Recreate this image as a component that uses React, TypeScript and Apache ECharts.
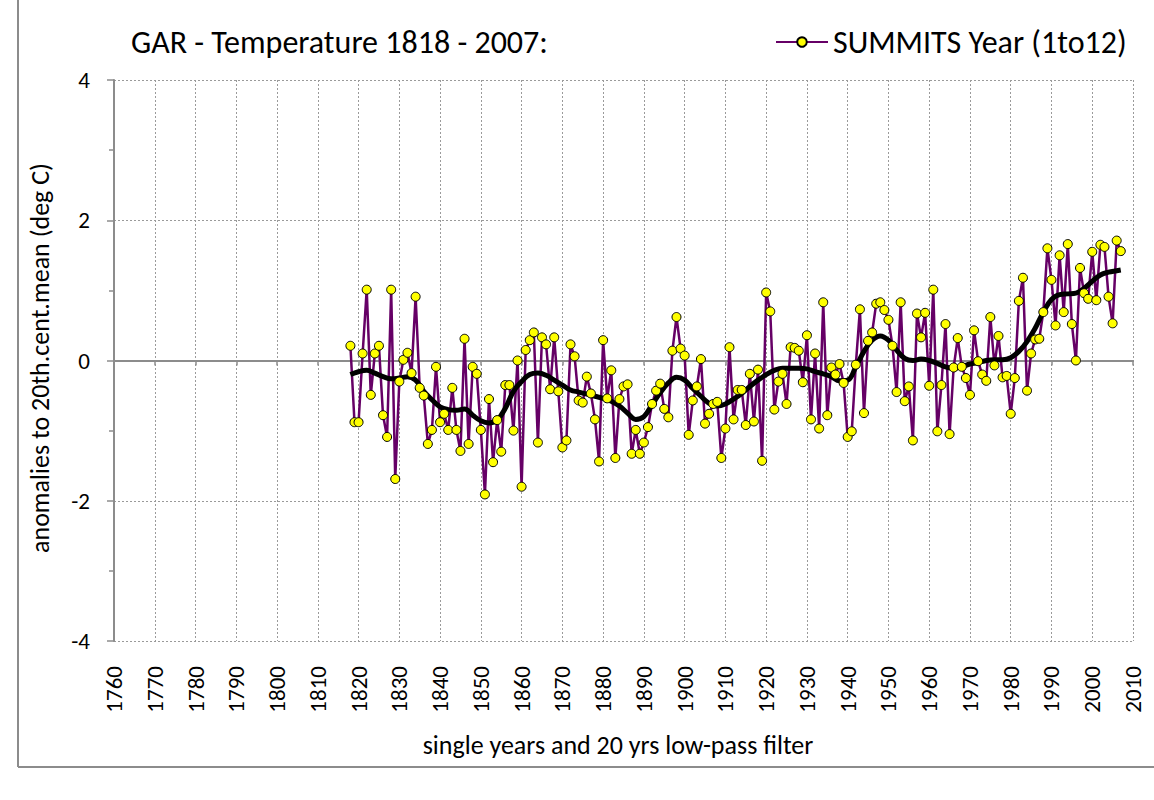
import React, { useEffect, useRef } from "react";
import * as echarts from "echarts";

const FIRST_YEAR = 1818;
const TITLE = "GAR - Temperature 1818 - 2007:";
const SERIES_NAME = "SUMMITS Year (1to12)";
const X_NAME = "single years and 20 yrs low-pass filter";
const Y_NAME = "anomalies to 20th.cent.mean (deg C)";

// yearly anomalies 1818..2007
const anomalies = [
  0.21, -0.88,
  -0.88, 0.10, 1.01, -0.49, 0.10, 0.21, -0.78, -1.09, 1.01, -1.69,
  -0.30, 0.01, 0.11, -0.18, 0.91, -0.39, -0.50, -1.19, -0.99, -0.09,
  -0.88, -0.76, -0.99, -0.39, -0.99, -1.29, 0.31, -1.19, -0.09, -0.19,
  -0.99, -1.91, -0.55, -1.45, -0.85, -1.30, -0.35, -0.35, -1.00, 0.00,
  -1.80, 0.15, 0.29, 0.40, -1.17, 0.33, 0.23, -0.41, 0.33, -0.44,
  -1.24, -1.14, 0.23, 0.06, -0.57, -0.60, -0.23, -0.47, -0.84, -1.44,
  0.29, -0.54, -0.14, -1.39, -0.55, -0.37, -0.34, -1.33, -0.99, -1.33,
  -1.17, -0.95, -0.62, -0.43, -0.33, -0.69, -0.81, 0.14, 0.62, 0.17,
  0.07, -1.06, -0.57, -0.37, 0.02, -0.90, -0.76, -0.62, -0.59, -1.39,
  -0.97, 0.19, -0.84, -0.42, -0.42, -0.92, -0.19, -0.87, -0.13, -1.43,
  0.97, 0.70, -0.70, -0.30, -0.19, -0.62, 0.19, 0.18, 0.14, -0.31,
  0.36, -0.84, 0.10, -0.97, 0.83, -0.78, -0.10, -0.20, -0.05, -0.32,
  -1.09, -1.01, -0.06, 0.73, -0.75, 0.28, 0.40, 0.81, 0.83, 0.72,
  0.58, 0.21, -0.45, 0.83, -0.58, -0.37, -1.14, 0.67, 0.33, 0.68,
  -0.36, 1.01, -1.01, -0.35, 0.52, -1.05, -0.10, 0.32, -0.09, -0.25,
  -0.49, 0.43, -0.01, -0.20, -0.29, 0.62, -0.07, 0.35, -0.24, -0.22,
  -0.76, -0.25, 0.85, 1.18, -0.43, 0.10, 0.30, 0.31, 0.69, 1.60,
  1.15, 0.50, 1.50, 0.69, 1.66, 0.52, 0.00, 1.32, 0.96, 0.88,
  1.55, 0.86, 1.65, 1.62, 0.91, 0.53, 1.71, 1.56,
];

// 20-year low-pass filter
const filterYears = [
  1818, 1820, 1822, 1824, 1826, 1828, 1830, 1832, 1834, 1836, 1838, 1840,
  1842, 1844, 1846, 1848, 1850, 1852, 1854, 1856, 1858, 1860, 1862, 1864,
  1866, 1868, 1870, 1872, 1874, 1876, 1878, 1880, 1882, 1884, 1886, 1888,
  1890, 1892, 1894, 1896, 1898, 1900, 1902, 1904, 1906, 1908, 1910, 1912,
  1914, 1916, 1918, 1920, 1922, 1924, 1926, 1928, 1930, 1932, 1934, 1936,
  1938, 1940, 1942, 1944, 1946, 1948, 1950, 1952, 1954, 1956, 1958, 1960,
  1962, 1964, 1966, 1968, 1970, 1972, 1974, 1976, 1978, 1980, 1982, 1984,
  1986, 1988, 1990, 1992, 1994, 1996, 1998, 2000, 2002, 2004, 2006, 2007,
];
const filterValues = [
  -0.20, -0.16, -0.14, -0.18, -0.23, -0.26, -0.25, -0.23, -0.28, -0.44, -0.56, -0.66,
  -0.70, -0.71, -0.69, -0.78, -0.86, -0.89, -0.85, -0.68, -0.44, -0.30, -0.20, -0.18,
  -0.21, -0.28, -0.35, -0.42, -0.45, -0.48, -0.51, -0.54, -0.58, -0.65, -0.75, -0.84,
  -0.80, -0.63, -0.46, -0.32, -0.24, -0.28, -0.40, -0.51, -0.61, -0.65, -0.62, -0.55,
  -0.47, -0.37, -0.28, -0.20, -0.14, -0.11, -0.11, -0.11, -0.12, -0.16, -0.19, -0.23,
  -0.29, -0.28, -0.09, 0.13, 0.29, 0.35, 0.29, 0.15, 0.03, 0.00, 0.02, 0.00,
  -0.04, -0.09, -0.11, -0.09, -0.05, -0.03, 0.00, 0.01, 0.01, 0.04, 0.13, 0.27,
  0.46, 0.69, 0.87, 0.94, 0.95, 0.96, 1.03, 1.13, 1.22, 1.26, 1.28, 1.29,
];

const X_MIN = 1760;
const X_MAX = 2010;
const X_STEP = 10;
const Y_MIN = -4;
const Y_MAX = 4;
const Y_STEP = 2;

const FONT = "Carlito, Lato, 'Open Sans', sans-serif";

export default function App() {
  const ref = useRef<HTMLDivElement>(null);

  useEffect(() => {
    if (!ref.current) return;
    const chart = echarts.init(ref.current, undefined, { renderer: "svg" });

    const yearly = anomalies.map((v, i) => [FIRST_YEAR + i, v]);
    const filtered = filterYears.map((y, i) => [y, filterValues[i]]);

    const gridLine = { show: true, lineStyle: { color: "#9a9a9a", type: [2, 2] as any, width: 1 } };

    chart.setOption({
      animation: false,
      backgroundColor: "#ffffff",
      textStyle: { fontFamily: FONT },
      title: {
        text: TITLE,
        left: 131,
        top: 26,
        padding: 0,
        textStyle: { fontSize: 32, fontWeight: "normal", color: "#000", fontFamily: FONT },
      },
      legend: {
        data: [SERIES_NAME],
        left: 775,
        top: 26,
        padding: 0,
        itemWidth: 52,
        itemHeight: 12,
        textStyle: { fontSize: 32, color: "#000", fontFamily: FONT },
      },
      grid: { left: 114, top: 80, right: 21, bottom: 159 },
      xAxis: [
        {
          type: "value",
          min: X_MIN,
          max: X_MAX,
          interval: X_STEP,
          position: "bottom",
          axisLine: { show: false, onZero: false },
          axisTick: { show: false },
          axisLabel: {
            rotate: 90,
            fontSize: 23,
            color: "#000",
            margin: 25,
            fontFamily: FONT,
            formatter: (v: number) => String(v),
          },
          splitLine: gridLine,
        },
        {
          type: "value",
          min: X_MIN,
          max: X_MAX,
          interval: X_STEP,
          position: "bottom",
          axisLine: { show: true, onZero: true, lineStyle: { color: "#8c8c8c", width: 2 } },
          axisTick: { show: true, length: 5, lineStyle: { color: "#8c8c8c", width: 1.5 } },
          axisLabel: { show: false },
          splitLine: { show: false },
        },
      ],
      yAxis: {
        type: "value",
        min: Y_MIN,
        max: Y_MAX,
        interval: Y_STEP,
        axisLine: { show: true, onZero: false, lineStyle: { color: "#8c8c8c", width: 2 } },
        axisTick: { show: true, length: 7, lineStyle: { color: "#8c8c8c", width: 1.5 } },
        minorTick: { show: true, splitNumber: 2, length: 5, lineStyle: { color: "#8c8c8c", width: 1.5 } },
        axisLabel: { fontSize: 23, color: "#000", margin: 24, fontFamily: FONT },
        splitLine: gridLine,
      },
      graphic: [
        { type: "line", shape: { x1: 18, y1: 0, x2: 18, y2: 767 }, style: { stroke: "#8c8c8c", lineWidth: 2 } },
        { type: "line", shape: { x1: 18, y1: 767, x2: 1154, y2: 767 }, style: { stroke: "#8c8c8c", lineWidth: 2 } },
        {
          type: "text",
          x: 40,
          y: 358,
          rotation: Math.PI / 2,
          style: { text: Y_NAME, fontSize: 26, fill: "#000", fontFamily: FONT, textAlign: "center", textVerticalAlign: "middle" },
        },
        {
          type: "text",
          x: 618,
          y: 745,
          style: { text: X_NAME, fontSize: 26, fill: "#000", fontFamily: FONT, textAlign: "center", textVerticalAlign: "middle" },
        },
      ],
      series: [
        {
          name: SERIES_NAME,
          type: "line",
          xAxisIndex: 0,
          data: yearly,
          symbol: "circle",
          symbolSize: 9,
          showAllSymbol: true,
          lineStyle: { color: "#660066", width: 2.5 },
          itemStyle: { color: "#ffff00", borderColor: "#000", borderWidth: 1 },
        },
        {
          name: "low-pass",
          type: "line",
          xAxisIndex: 0,
          data: filtered,
          symbol: "none",
          smooth: 0.4,
          lineStyle: { color: "#000", width: 5 },
          z: 3,
        },
      ],
    });

    return () => chart.dispose();
  }, []);

  return (
    <div
      ref={ref}
      style={{ position: "absolute", left: 0, top: 0, width: 1154, height: 800, background: "#fff" }}
    />
  );
}
